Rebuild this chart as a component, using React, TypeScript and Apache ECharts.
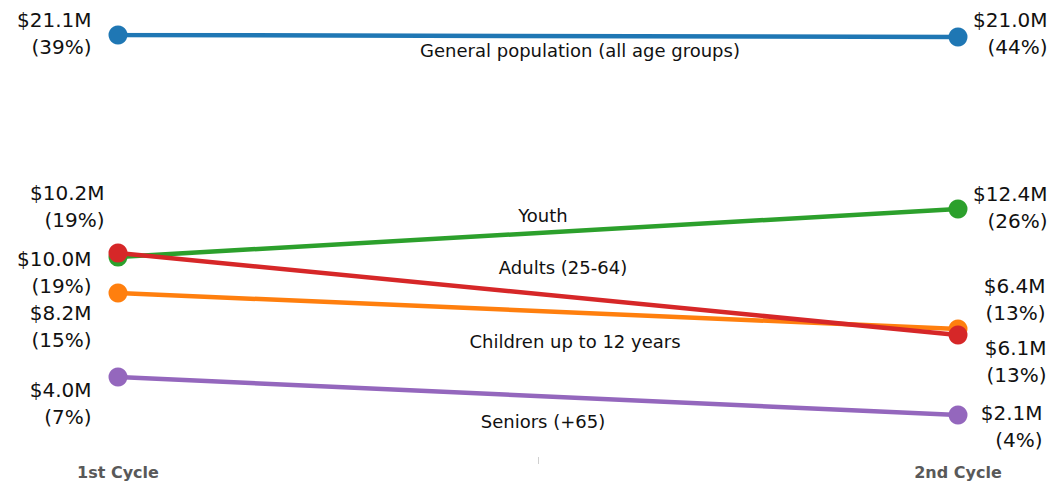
import React, { useEffect, useRef } from "react";
import * as echarts from "echarts";

const categories = ["1st Cycle", "2nd Cycle"];
const seriesNames = [
  "General population (all age groups)",
  "Youth",
  "Children up to 12 years",
  "Adults (25-64)",
  "Seniors (+65)",
];
const generalValues = [21.1, 21.0];
const youthValues = [10.0, 12.4];
const childrenValues = [8.2, 6.4];
const adultsValues = [10.2, 6.1];
const seniorsValues = [4.0, 2.1];
const generalShares = [39, 44];
const youthShares = [19, 26];
const childrenShares = [15, 13];
const adultsShares = [19, 13];
const seniorsShares = [7, 4];

const seriesValues = [generalValues, youthValues, childrenValues, adultsValues, seniorsValues];
const seriesShares = [generalShares, youthShares, childrenShares, adultsShares, seniorsShares];
const colors = ["#1f77b4", "#2ca02c", "#ff7f0e", "#d62728", "#9467bd"];

// label offsets [left point, right point] as [dx, dy]
const labelOffsets = [
  [[-17, -1.5], [80, -3.5]],
  [[-17, 15], [80, -2]],
  [[-17, 33], [78, -30]],
  [[-4, -47], [79, 26]],
  [[-17, 26], [75, 11]],
];
// series name annotation positions (center x, center y)
const namePositions = [
  [580, 50],
  [543, 215],
  [575, 341],
  [563, 267],
  [543, 421],
];

const FONT = "'DejaVu Sans', Verdana, sans-serif";

export default function App() {
  const ref = useRef<HTMLDivElement>(null);
  useEffect(() => {
    if (!ref.current) return;
    const chart = echarts.init(ref.current, undefined, { renderer: "svg" });
    const series = seriesValues.map((vals, si) => ({
      type: "line",
      name: seriesNames[si],
      data: vals.map((v, i) => ({
        value: v,
        label: {
          show: true,
          position: i === 0 ? "left" : "right",
          distance: 0,
          align: "right",
          verticalAlign: "middle",
          offset: labelOffsets[si][i],
          formatter: `$${v.toFixed(1)}M\n(${seriesShares[si][i]}%)`,
          fontSize: 20,
          lineHeight: 27,
          color: "#111",
          fontFamily: FONT,
        },
      })),
      symbol: "circle",
      symbolSize: 19,
      lineStyle: { width: 4.5, color: colors[si] },
      itemStyle: { color: colors[si] },
      emphasis: { disabled: true },
      z: 2 + si,
    }));
    chart.setOption({
      animation: false,
      grid: { left: 118, right: 95, top: 35, bottom: 26, containLabel: false },
      xAxis: {
        type: "category",
        data: categories,
        boundaryGap: false,
        axisLine: { show: false },
        axisTick: { show: false },
        axisLabel: {
          fontSize: 16,
          fontWeight: "bold",
          color: "#595959",
          fontFamily: FONT,
          margin: 7,
        },
        splitLine: { show: false },
      },
      yAxis: {
        type: "value",
        min: 0,
        max: 21.1,
        show: false,
        splitLine: { show: false },
      },
      series,
      graphic: [
        ...seriesNames.map((n, i) => ({
          type: "text",
          x: namePositions[i][0],
          y: namePositions[i][1],
          style: {
            text: n,
            fontSize: 18,
            fontFamily: FONT,
            fill: "#111",
            align: "center",
            verticalAlign: "middle",
          },
          z: 100,
        })),
        {
          type: "line",
          shape: { x1: 538.5, y1: 457, x2: 538.5, y2: 464 },
          style: { stroke: "#d0d0d0", lineWidth: 1 },
        },
      ],
    });
    return () => chart.dispose();
  }, []);
  return <div ref={ref} style={{ width: 1053, height: 483, position: "absolute", left: 0, top: 0 }} />;
}
